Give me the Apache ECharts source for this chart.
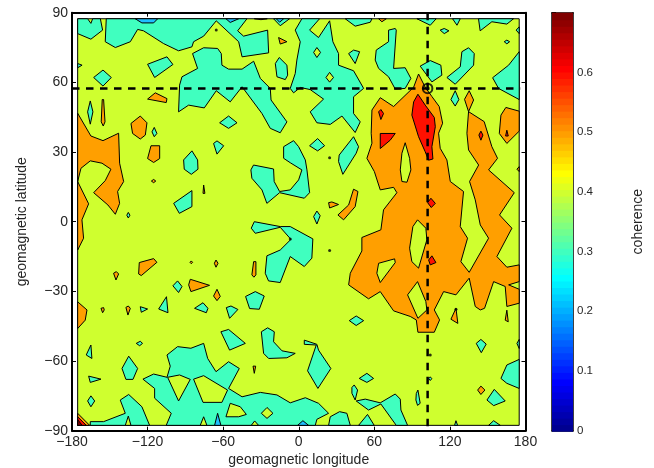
<!DOCTYPE html>
<html>
<head>
<meta charset="utf-8">
<style>html,body{margin:0;padding:0;background:#fff}#c{width:654px;height:468px}</style>
<script src="https://cdn.jsdelivr.net/npm/echarts@6/dist/echarts.min.js"></script>
</head>
<body>
<div id="c"></div>
<script>
// Contour regions, as [longitude, latitude] vertices.
const mapExtent = [[[-175.5,87.4],[175,87.4],[175,-87.7],[-175.5,-87.7]]];

const tealRegions = [
 [[-175.5,87.4],[-167.6,87.4],[-165,85.4],[-163.6,87.4],[-157.5,87.4],[-155.7,82.5],[-165,78.6],[-175.5,81]],
 [[-152.8,87.4],[-41.1,87.4],[-48.5,82.2],[-43.8,79.9],[-24.7,82.5],[-23.9,72.7],[-45,71],[-47.7,77.5],[-65.5,86.5],[-75.5,79.9],[-83.5,77.5],[-84.8,75.3],[-95.4,73.6],[-107.3,76.7],[-123.2,82.2],[-127.9,82.8],[-133.7,77.5],[-145.6,75],[-153.6,77.5]],
 [[-20,87.4],[-14.7,84.4],[-7.3,87.4]],
 [[-95.4,47.3],[-94.6,58.8],[-92.7,62.4],[-80.3,66],[-84.3,72.4],[-75.5,74.9],[-64.4,74.6],[-61.5,72.4],[-61,67.4],[-55.7,65.7],[-45,65.7],[-35.8,69.1],[-30.5,61.7],[-22.6,57.4],[-22,52.4],[-9.4,43],[-14.7,38.3],[-22.6,40.2],[-29.2,46.6],[-45,58.1],[-54.4,51.6],[-65.5,56.4],[-75,49],[-87.4,50.2]],
 [[-162.8,62.1],[-155.4,65.3],[-148.8,62.1],[-155.4,58.4]],
 [[-120,67.8],[-104.6,71],[-99.9,67.7],[-114.4,62.1]],
 [[-175.5,68.1],[-172,67.4],[-175.5,66.3]],
 [[-167.6,47.3],[-165.5,52],[-163.4,47.3],[-165.5,42]],
 [[-62.8,42.6],[-55.7,45.5],[-49,42.6],[-55.7,40.2]],
 [[-18.6,68.1],[-15.5,70.7],[-9.4,67.4],[-8.8,63.1],[-10.7,61.2],[-17.3,62.4]],
 [[-116.5,38.7],[-114.7,40.6],[-112.6,38],[-114.7,36.6]],
 [[-67.6,33.7],[-64.9,34.8],[-59.6,32.7],[-64.9,29.1]],
 [[-91.4,26.6],[-84.8,30.5],[-80.3,26.6],[-80,22.6],[-85.3,20.4],[-90.9,22.6]],
 [[-99.3,7.9],[-84.8,13.4],[-84.8,6.5],[-94.8,3.6]],
 [[-136.5,2.8],[-135.3,4],[-134,2.8],[-135.3,1.6]],
 [[-12,32.3],[-4.1,34.9],[-0.1,32.3],[5.2,26.6],[6.5,22.3],[8.6,12.5],[4.4,10.1],[-15.2,12.5],[-25.3,7.9],[-29.2,13.7],[-37.2,18.7],[-38,22.3],[-35.9,24.4],[-20,22.7],[-19.5,17.3],[-15.2,13],[-6.75,13.7],[-0.1,18],[2.5,22.3],[-6.75,25.4],[-12,27.3]],
 [[-35.3,0],[-14.7,-2.1],[-6.75,-2.1],[11.2,-7.4],[10.4,-15.7],[4.4,-19.3],[-6.75,-15],[-14.7,-26.2],[-24,-25.5],[-26.6,-22.2],[-25.3,-14.7],[-14.7,-12.2],[-6.2,-7.6],[-14.7,-2.4],[-34.5,-5],[-37.7,-2.8]],
 [[-99.9,-27.6],[-96.2,-25.5],[-92.7,-27.9],[-95.4,-30.5]],
 [[-42.2,-32.2],[-34.5,-30.1],[-27.4,-32],[-31.3,-37.7],[-39,-37.4]],
 [[-111.2,-37.6],[-105,-32.3],[-103.8,-39.2]],
 [[-82.7,-37.3],[-76,-34.9],[-72.1,-37.3],[-73.4,-39.2]],
 [[-57.5,-37],[-53.8,-36.3],[-48.3,-37.8],[-54.9,-41.6]],
 [[-125.8,-36.6],[-120,-37.6],[-125,-39]],
 [[-165,-53.1],[-164.2,-58.9],[-168.7,-57.4]],
 [[-129,-52.4],[-125.8,-51.5],[-124,-52.4],[-126.3,-53.4]],
 [[-61.8,-47.4],[-55.7,-46.4],[-42.4,-52.4],[-54.9,-55.3]],
 [[-29.7,-47.4],[-24.7,-45.7],[-19.4,-47.4],[-20,-51.7],[-13.3,-55.6],[-2.8,-56.7],[-9.4,-58.6],[-23.9,-58.9],[-27.9,-56.7]],
 [[-140.3,-63.2],[-135,-57.9],[-127.9,-63.2],[-131.6,-67.9],[-137.2,-67.9]],
 [[-166.8,-66.5],[-157,-67.8],[-165.5,-69.2]],
 [[-167.6,-77.2],[-165,-75],[-162,-77.2],[-165,-79.7]],
 [[-165.5,-87.7],[-165.5,-86.1],[-154.9,-86.1],[-137.7,-82.5],[-141.7,-76.8],[-135,-74.4],[-124.5,-79.7],[-118.4,-87.7]],
 [[-123.7,-67.8],[-115.2,-65.6],[-104.6,-67],[-102,-62.2],[-104.6,-57.4],[-96.2,-53.8],[-85.6,-54.5],[-75.5,-52.4],[-72.3,-58.9],[-65.7,-64.6],[-55.7,-60.3],[-47.2,-63.2],[-55.7,-71.8],[-45,-75.4],[-30.5,-73.5],[-17.3,-74.6],[-6.75,-78],[5.2,-75.8],[15.7,-78.2],[23.7,-82.5],[14.4,-85.1],[13.1,-87.7],[-105.2,-87.7],[-101.2,-82.5],[-114.4,-76],[-114.4,-71.8]],
 [[40.1,-42.6],[45.6,-40.6],[51.5,-42.6],[45.6,-44.7]],
 [[4.4,-51],[14.4,-52.8],[15.7,-55.3],[25.5,-63.2],[15.2,-71.8],[7,-64.2],[13.9,-53.1],[4.4,-52.8]],
 [[48,-67.5],[54.1,-65.3],[59.4,-67.5],[54.1,-69.2]],
 [[42.2,-71.4],[44,-70.3],[46.7,-72.5],[44.8,-76.8],[42.2,-73.9]],
 [[45.6,-77.2],[52.8,-76.4],[64.7,-78],[76.6,-74.2],[80.6,-76.4],[81.1,-81.1],[86.4,-87.7],[77.4,-87.7],[65.2,-78.5],[55.4,-81.1]],
 [[23.7,-87.7],[25,-84],[32.4,-81.8],[38.2,-82.5],[40.9,-87.7]],
 [[47.5,-87.7],[54.6,-83],[59.9,-87.7]],
 [[93.3,-74],[94.6,-72.5],[96.4,-78.2],[94.3,-79.1],[93,-76.8]],
 [[149.4,-76.8],[155.2,-72.2],[163.9,-77.2],[154.7,-79.2]],
 [[140.9,-52.4],[144.6,-50.7],[148.8,-52.7],[144.9,-56.4]],
 [[123.7,-87.7],[124.8,-85.7],[126.1,-87.7]],
 [[150.7,-87.7],[154.7,-85.7],[160,-87.7]],
 [[173.2,-52.4],[175,-50.7],[175,-54.6]],
 [[160.5,-67.5],[165.2,-61.7],[175,-59.3],[175,-71.8],[165.2,-69.6]],
 [[103.2,-67.6],[104.4,-66.8],[105.6,-67.6],[104.4,-68.4]],
 [[36.9,87.4],[44.8,84.2],[56.8,85.9],[58.1,87.4]],
 [[93.8,87.4],[104.4,84.6],[109.1,87.4]],
 [[122.1,87.4],[125.6,84.6],[128.2,87.4]],
 [[142.7,87.4],[144,82.2],[153.3,86.1],[165.2,85.1],[170.5,87.4]],
 [[112.3,82.5],[115.5,83.2],[119.2,82.2],[115.5,81]],
 [[163.1,77.5],[165.2,78.2],[167.4,77.5],[165.2,76.6]],
 [[175,83.9],[172.6,82.5],[175,81]],
 [[2.5,87.4],[16.5,87.4],[8.6,82.5],[15.7,79.3],[24.5,86.5],[27.1,77.5],[31.6,72.4],[31.6,67.4],[43.5,65],[51.5,57.4],[43.5,53.8],[43.5,46.6],[48.8,43],[44.8,38.4],[34.3,45.5],[25,41.9],[14.4,42.6],[9.1,47.3],[19.7,52.8],[9.1,56.9],[1.2,57.8],[-4.1,55.5],[-6.75,57.4],[-2.8,63.8],[-1.5,69.6],[1.2,77.5],[-2.8,82.5]],
 [[39.6,72.4],[43.5,73.9],[48.3,73.2],[44.8,68.1]],
 [[8.6,32.7],[15,35.8],[20.5,32.7],[15,30.5]],
 [[32.1,28.7],[43.5,36.6],[47.5,32.3],[45.6,29.5],[35,20.4],[31.6,25.9]],
 [[71.3,82.5],[76.6,83.2],[77.4,82.5],[75.3,66],[84.5,66.3],[89,61.7],[84.5,57.4],[76.6,57.1],[71.3,62.4],[63.4,66],[60.7,69.6],[61.5,73.9],[71.3,77.5]],
 [[96.4,67],[104.4,69.4],[112.8,67.4],[113.6,63.1],[105.7,60.2]],
 [[117.6,62.1],[128.2,66.7],[129.5,73.2],[134.8,74.9],[139.3,72.4],[138.8,67.4],[124.2,59.2]],
 [[153.9,62],[166.6,67.4],[175,73.2],[175,52.6],[158.6,57.4]],
 [[120.8,52.6],[124.2,56.4],[127.1,52.6],[124.2,49.8]],
 [[14.4,4.6],[17,2.6],[14.4,-1],[11.8,2.2]]
];

const blueRegions = [
 [[-129.8,87.4],[-124.5,85.6],[-115.2,85.6],[-112,87.4]],
 [[-57.8,87.4],[-54.4,85.8],[-47.7,87.4]],
 [[-17.8,87.4],[-15.2,85.9],[-12,87.4]],
 [[-66.8,-87.7],[-64.4,-82.5],[-61.8,-87.7]],
 [[-0.9,-87.7],[3.3,-85.7],[7.8,-87.7]]
];

const orangeRegions = [
 [[-35.3,87.4],[-25,87.4],[-30,87]],
 [[63.4,87.4],[66,86.1],[69.5,87.4]],
 [[-133.2,42.3],[-125.8,45.5],[-120.5,42.6],[-121.8,37.3],[-125.8,35.6],[-131.9,38]],
 [[-16,79.3],[-9.4,77.5],[-14.7,76.5]],
 [[-120,52.8],[-113.9,55.5],[-104.6,53],[-105.2,51.3]],
 [[-156,52.6],[-154.9,52.6],[-153.8,43],[-155.2,41.2],[-156.8,43]],
 [[-120,27.2],[-117.3,32.7],[-110.4,32.7],[-110.4,27.2],[-115.2,25.5]],
 [[-175.5,46.7],[-165,36.9],[-155.4,34.9],[-143,38.1],[-142.2,25.2],[-139,17.3],[-143.8,13],[-142.2,7.9],[-145.6,3.2],[-151.5,7.2],[-162.8,12.5],[-153.6,17.7],[-149.1,22.6],[-156.2,25.2],[-165.5,26.2],[-172.9,23],[-175.5,17.3],[-166.8,7.7],[-172.1,0.8],[-170.8,-7.1],[-175.5,-12.2]],
 [[-126.6,-17.6],[-115.2,-15.9],[-112.6,-17.5],[-125,-23.2],[-127.1,-22.5]],
 [[-147,-22.2],[-144.8,-21.5],[-143,-22.5],[-145.1,-25.1]],
 [[-86.1,-24.8],[-70.8,-27.4],[-85.6,-30.1],[-87.4,-27.2]],
 [[-64.9,-29.1],[-62.3,-32.2],[-64.9,-34],[-67.6,-32]],
 [[-35.8,-17.2],[-34,-17.2],[-34,-22.9],[-35.6,-23.9],[-37.2,-22.9]],
 [[-65.7,-16.5],[-64.1,-17.9],[-65.7,-19.6],[-67,-17.9]],
 [[-86.3,-17.5],[-85.3,-16.9],[-84.3,-17.5],[-85.3,-18.1]],
 [[-117,17.5],[-115.2,18.2],[-113.5,17.5],[-115.2,16.8]],
 [[-75.5,15.8],[-74.5,12.2],[-76,12.2]],
 [[-175.5,-34.5],[-168.1,-38],[-169.5,-42.4],[-175.5,-46]],
 [[-137.2,-36.9],[-135.3,-36.3],[-133.7,-37.3],[-135.6,-40.2]],
 [[-157,-37.3],[-154.9,-37],[-154.4,-38],[-155.7,-39.2]],
 [[-36.3,-62.2],[-34.2,-62.2],[-35.3,-65.3]],
 [[23.7,8.2],[26.3,8.5],[31.6,7.4],[24.5,5.9]],
 [[43.5,14],[47,13],[44.8,6.5],[35.6,0.8],[31.1,2.9],[39.6,7.2]],
 [[173.2,22.6],[175,23.7],[175,21.6]],
 [[164.4,49.2],[175,47.6],[175,39],[165.2,33.7],[159.2,38],[160.5,45.9]],
 [[142,-72.5],[144.6,-70.8],[147.8,-72.5],[144.6,-74.4]],
 [[120.8,-42],[124.8,-37.3],[126.3,-43.8]],
 [[163.9,-42.4],[165.2,-38.1],[166.3,-43.1]],
 [[95.1,63.6],[100.4,57.9],[105.7,53.9],[111.5,49.6],[114.2,42.4],[111,38.1],[112.3,31.6],[117.6,26.6],[120.3,17.3],[130.8,13],[128.2,-2.1],[134,-7.1],[128.7,-17.2],[135.3,-21.8],[150.7,-7.1],[144.1,-1.4],[140.1,9.4],[135.6,17.3],[142.8,24.4],[134.8,30.9],[133.5,38.1],[134.8,47.4],[131.6,52.7],[135.3,56.4],[138.8,52.4],[134.8,47.4],[147.2,43.1],[153.3,32.3],[157.8,27.3],[150.7,22.3],[171.1,12.5],[159.4,2.9],[169.2,-2.8],[157.3,-15],[165.2,-19.6],[175,-18.6],[175,-25.8],[166.6,-27.2],[175,-29.1],[175,-35.1],[165.2,-36.5],[163.9,-27.9],[154.7,-25.8],[147.5,-37.3],[144.1,-38],[140.1,-36.5],[135.3,-24.3],[124.8,-31.5],[115,-30.1],[107.6,-38],[111.8,-42.3],[107.6,-47.6],[94.6,-47.6],[93.3,-42.3],[88.5,-40.8],[75.3,-38.4],[64.7,-30.1],[55.4,-33.2],[39.6,-27.2],[40.9,-22.2],[50.1,-12.6],[50.1,-6.8],[65.2,-3.5],[67.3,5.1],[77.9,12.5],[75.3,14.8],[64.7,13.7],[60,21.6],[54.1,27.3],[58.1,33.8],[57.5,38.1],[58.1,48.1],[64.7,53.4],[75.3,49.6],[91.2,57.9]],
 [[-175.5,-82.5],[-175.5,-87.7],[-166,-87.7]]
];

// Lower-level pockets that sit inside teal or orange regions.
const pocketRegions = [
 [[-137.7,-87.7],[-135.3,-83.7],[-133.2,-87.7]],
 [[-104.1,-67],[-94.6,-66],[-86.1,-67.9],[-95.4,-77.2]],
 [[-83.5,-67.8],[-75.5,-66.3],[-56.5,-72.5],[-61,-77.8],[-76,-77.8]],
 [[-57.8,-84],[-54.4,-78.2],[-46.4,-79.7],[-41.6,-83],[-47.7,-84]],
 [[-29.7,-82.5],[-25.2,-80],[-20.5,-82.5],[-25.2,-84.7]],
 [[-78.2,-87.7],[-75.5,-84],[-72.9,-87.7]],
 [[-37.7,-87.7],[-35,-85.8],[-31.9,-87.7]],
 [[11.8,72.9],[14.4,75],[17.3,72.9],[14.4,70.7]],
 [[21.6,62.1],[24.5,64.3],[27.6,62.1],[24.5,60.1]],
 [[84.5,34],[88,27.3],[89,22.3],[85.9,17],[81.9,17.3],[80.6,22.3],[81.9,29.5]],
 [[94.3,0.8],[100.9,-2.8],[101.7,-7.8],[95.1,-20],[89.8,-17.2],[88,-11.4],[90.6,-2.1]],
 [[63.4,-17.9],[76.1,-16],[76.6,-17.6],[64.7,-26.2],[62,-22.2]],
 [[86.4,-31.5],[94.3,-25.8],[100.9,-34.4],[101.7,-38],[94.6,-41.6]]
];

const redRegions = [
 [[94.6,54.9],[100.4,50.2],[107.6,44.9],[108.4,40.9],[105.7,32.3],[106.5,27],[103.1,26.5],[100.4,30.1],[95.1,36.6],[89.8,45.9],[91.2,51.6]],
 [[65.2,48.3],[67.3,46.6],[65.2,44],[63.4,47.3]],
 [[64.7,38],[76.6,38],[72.6,35.1],[64.7,31.5]],
 [[144.6,39],[146.2,37.3],[144.6,35.1],[143,37.3]],
 [[165.2,39.4],[166.3,36.9],[164.2,36.9]],
 [[104.9,10.1],[108.4,7.9],[105.2,6.1],[102.3,8.2]],
 [[105.7,-14.7],[108.9,-17.6],[104.4,-18.6],[103.1,-16.5]],
 [[-175.5,-84],[-175.5,-87.7],[-168.7,-87.7]]
];

const darkRegions = [
 [[-175.5,-85.2],[-175.5,-87.7],[-172,-87.7]]
];

const specks = [[24.5,27.5],[24.5,-12.4],[-6.75,-7.4],[124.8,-37.7],[-65.5,82.5],[104.4,-57.4]];

const stationLon = 102.3;
const stationLat = 57.4;
const dashedEastEnd = 175.8;

const lonTicks = [-180,-120,-60,0,60,120,180];
const latTicks = [-90,-60,-30,0,30,60,90];
const coherenceTicks = ['0','0.1','0.2','0.3','0.4','0.5','0.6'];
const coherenceMax = 0.7;

const colorbarBands = [
 '#000090','#0000A0','#0000B0','#0000C0','#0000D0','#0000E0','#0000F0','#0000FF',
 '#0010FF','#0020FF','#0030FF','#0040FF','#0050FF','#0060FF','#0070FF','#0080FF',
 '#0090FF','#00A0FF','#00B0FF','#00C0FF','#00D0FF','#00E0FF','#00F0FF','#00FFFF',
 '#10FFEF','#20FFDF','#30FFCF','#40FFBF','#50FFAF','#60FF9F','#70FF8F','#80FF80',
 '#90FF70','#A0FF60','#B0FF50','#C0FF40','#D0FF30','#E0FF20','#F0FF10','#FFFF00',
 '#FFEF00','#FFDF00','#FFCF00','#FFBF00','#FFAF00','#FF9F00','#FF8F00','#FF8000',
 '#FF7000','#FF6000','#FF5000','#FF4000','#FF3000','#FF2000','#FF1000','#FF0000',
 '#F00000','#E00000','#D00000','#C00000','#B00000','#A00000','#900000','#800000'
];

const FONT = '"Liberation Sans", Arial, sans-serif';
const TXT = '#262626';
const minus = s => String(s).replace('-', '\u2212');

function regionSeries(regions, fill) {
  return {
    type: 'custom', xAxisIndex: 0, yAxisIndex: 0, silent: true, animation: false, clip: false,
    data: regions.map((r, i) => [r[0][0], r[0][1], i]),
    encode: { x: 0, y: 1 },
    renderItem: (params, api) => ({
      type: 'polygon',
      shape: { points: regions[api.value(2)].map(p => api.coord(p)) },
      style: { fill: fill, stroke: '#000', lineWidth: 1 }
    })
  };
}

function frameAxis(extra) {
  return Object.assign({
    type: 'value',
    splitLine: { show: false },
    axisLine: { show: true, onZero: false, lineStyle: { color: '#000', width: 2 } },
    axisTick: { show: true, inside: true, length: 4, lineStyle: { color: '#000', width: 1 } },
    axisLabel: { show: false }
  }, extra);
}

const labelStyle = { show: true, fontFamily: FONT, fontSize: 14, color: TXT };
const nameStyle = { fontFamily: FONT, fontSize: 14, color: TXT };

const option = {
  backgroundColor: '#fff',
  animation: false,
  grid: [
    { left: 72, top: 12.7, width: 453.5, height: 418, outerBoundsMode: 'none' },
    { left: 552, top: 12.7, width: 21, height: 418, outerBoundsMode: 'none' }
  ],
  xAxis: [
    frameAxis({ gridIndex: 0, position: 'bottom', min: -180, max: 180, interval: 60,
      axisLabel: Object.assign({}, labelStyle, { margin: 4, formatter: v => minus(v), customValues: lonTicks }),
      name: 'geomagnetic longitude', nameLocation: 'middle', nameGap: 21, nameTextStyle: nameStyle }),
    frameAxis({ gridIndex: 0, position: 'top', min: -180, max: 180, interval: 60 }),
    frameAxis({ gridIndex: 1, position: 'bottom', min: 0, max: 1, axisTick: { show: false },
      axisLine: { show: true, onZero: false, lineStyle: { color: '#000', width: 1.5 } } }),
    frameAxis({ gridIndex: 1, position: 'top', min: 0, max: 1, axisTick: { show: false },
      axisLine: { show: true, onZero: false, lineStyle: { color: '#000', width: 1.5 } } })
  ],
  yAxis: [
    frameAxis({ gridIndex: 0, position: 'left', min: -90, max: 90, interval: 30,
      axisLabel: Object.assign({}, labelStyle, { margin: 4, formatter: v => minus(v), customValues: latTicks }),
      name: 'geomagnetic latitude', nameLocation: 'middle', nameGap: 43, nameRotate: 90, nameTextStyle: nameStyle }),
    frameAxis({ gridIndex: 0, position: 'right', min: -90, max: 90, interval: 30 }),
    frameAxis({ gridIndex: 1, position: 'right', min: 0, max: coherenceMax, interval: 0.1,
      axisLine: { show: true, onZero: false, lineStyle: { color: '#000', width: 1.5 } },
      axisTick: { show: true, inside: true, length: 4, lineStyle: { color: '#000', width: 1 } },
      axisLabel: { show: true, margin: 4, fontFamily: FONT, fontSize: 11.5, color: TXT, showMaxLabel: false,
        formatter: v => coherenceTicks[Math.round(v * 10)] || '' },
      name: 'coherence', nameLocation: 'middle', nameGap: 58, nameRotate: 90, nameTextStyle: nameStyle }),
    frameAxis({ gridIndex: 1, position: 'left', min: 0, max: coherenceMax, interval: 0.1,
      axisLine: { show: true, onZero: false, lineStyle: { color: '#000', width: 1.5 } } })
  ],
  series: [
    regionSeries(mapExtent, '#CFFF2F'),
    regionSeries(tealRegions, '#40FFBF'),
    regionSeries(blueRegions, '#1FBFFF'),
    regionSeries(orangeRegions, '#FF9F00'),
    regionSeries(pocketRegions, '#CFFF2F'),
    regionSeries(redRegions, '#FF1000'),
    regionSeries(darkRegions, '#800000'),
    { type: 'scatter', xAxisIndex: 0, yAxisIndex: 0, silent: true, symbolSize: 3,
      itemStyle: { color: '#000' }, data: specks },
    { type: 'line', xAxisIndex: 0, yAxisIndex: 0, silent: true, symbol: 'none',
      lineStyle: { color: '#000', width: 2.5, type: [7.5, 6.5] },
      data: [[-180, stationLat], [dashedEastEnd, stationLat]] },
    { type: 'line', xAxisIndex: 0, yAxisIndex: 0, silent: true, symbol: 'none',
      lineStyle: { color: '#000', width: 2.5, type: [7.5, 6.5] },
      data: [[stationLon, 90], [stationLon, -90]] },
    { type: 'scatter', xAxisIndex: 0, yAxisIndex: 0, silent: true, symbol: 'circle', symbolSize: 9.5,
      itemStyle: { color: 'rgba(0,0,0,0)', borderColor: '#000', borderWidth: 2 },
      data: [[stationLon, stationLat]] },
    { type: 'custom', xAxisIndex: 2, yAxisIndex: 2, silent: true, animation: false,
      data: colorbarBands.map((c, i) => [0, i / colorbarBands.length * coherenceMax, (i + 1) / colorbarBands.length * coherenceMax, i]),
      encode: { x: 0, y: 1 },
      renderItem: (params, api) => {
        const a = api.coord([0, api.value(1)]);
        const b = api.coord([1, api.value(2)]);
        const col = colorbarBands[api.value(3)];
        return { type: 'rect', shape: { x: a[0], y: b[1], width: b[0] - a[0], height: a[1] - b[1] + 1 },
          style: { fill: col } };
      } }
  ]
};
echarts.init(document.getElementById('c'), null, { renderer: 'canvas' }).setOption(option);
</script>
</body>
</html>
